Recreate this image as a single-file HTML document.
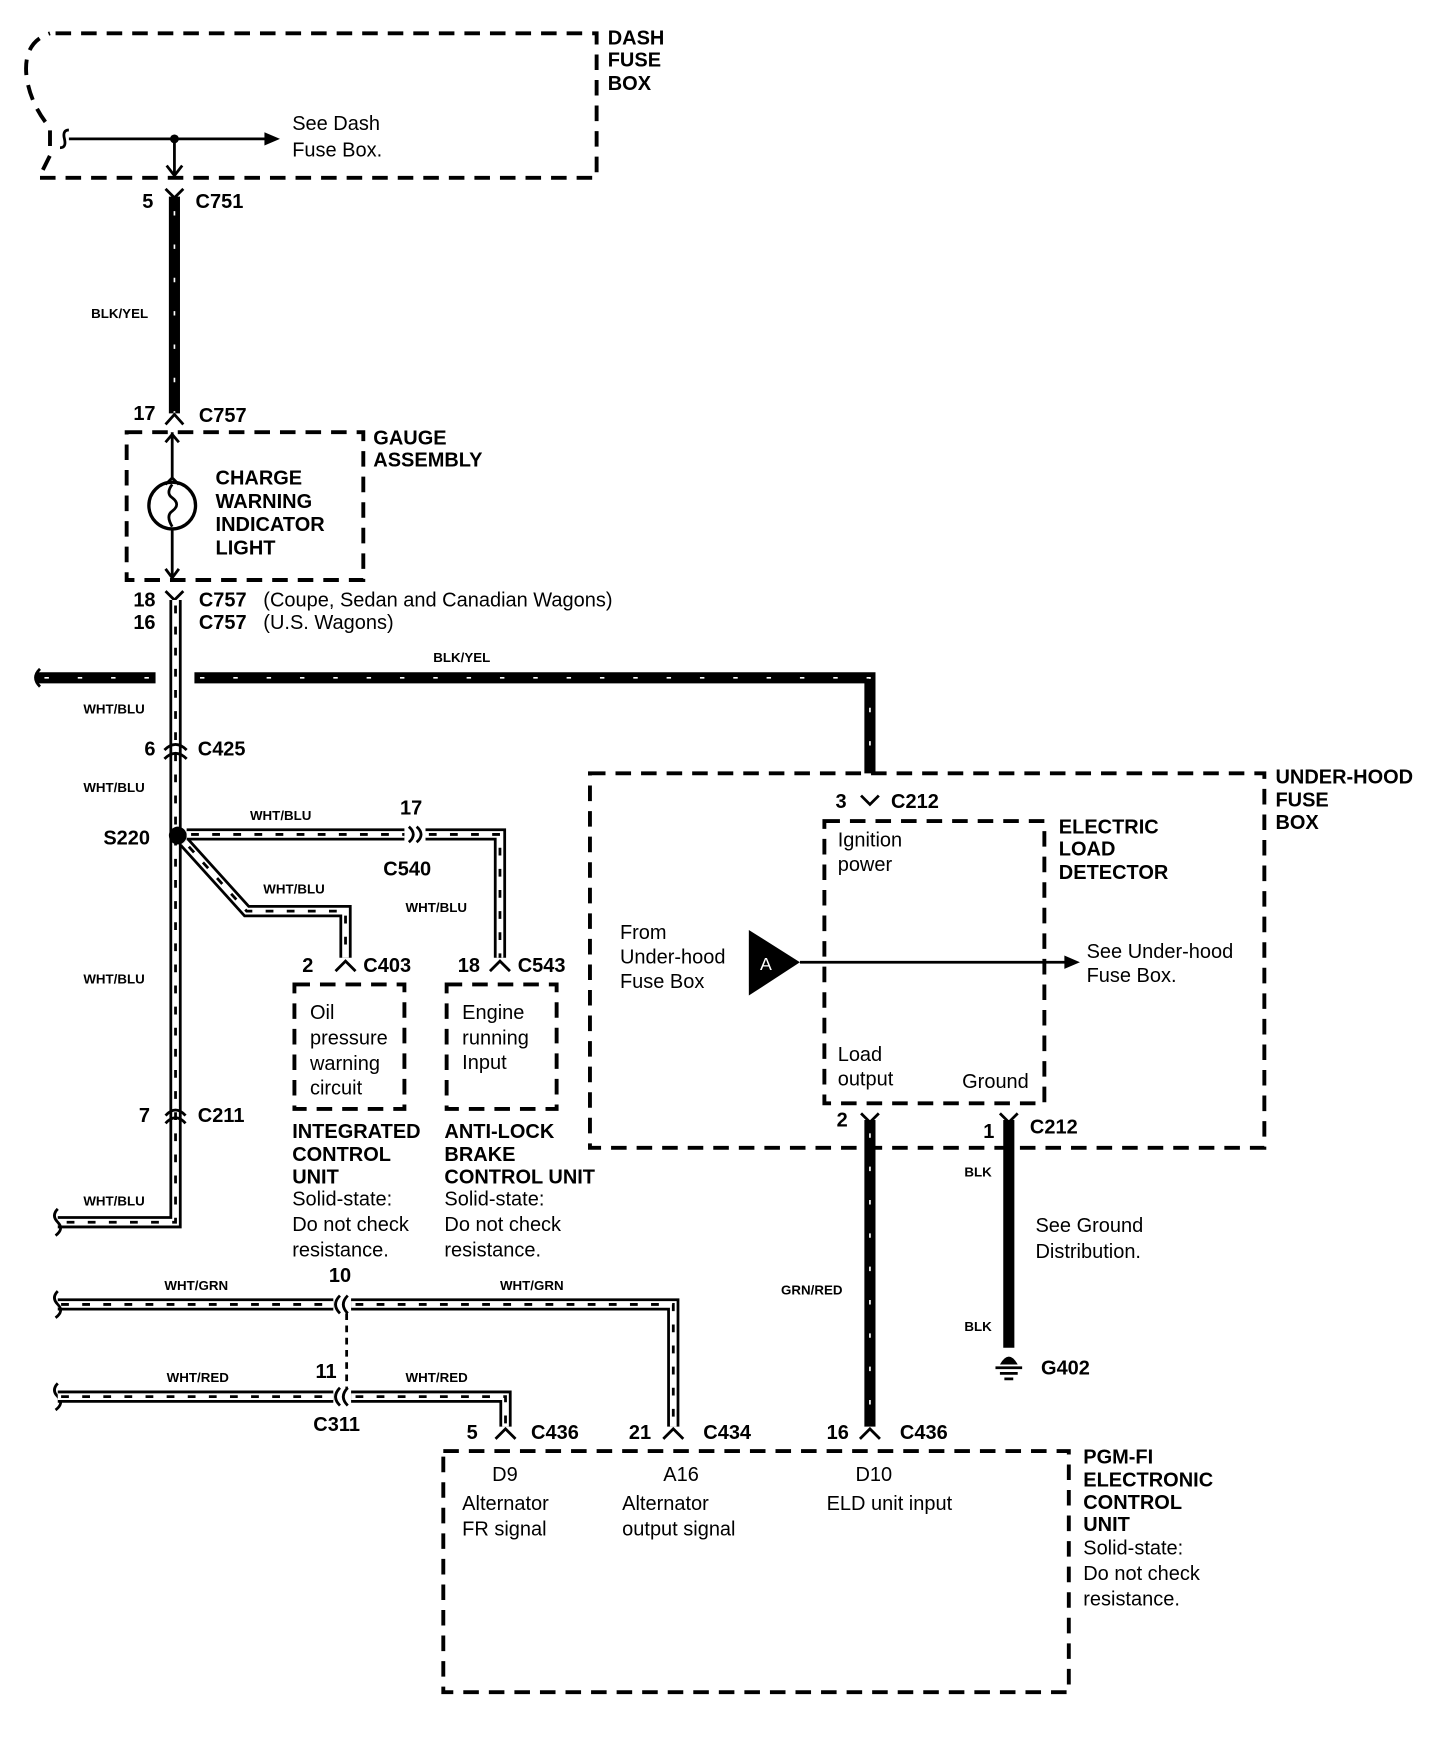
<!DOCTYPE html>
<html><head><meta charset="utf-8"><style>
html,body{margin:0;padding:0;background:#fff}
svg{display:block}
text{font-family:"Liberation Sans",Arial,sans-serif;fill:#000}
.b{font-weight:bold;font-size:18px}
.r{font-size:18px}
.s{font-weight:bold;font-size:12px}
.box{fill:none;stroke:#000;stroke-width:3.5;stroke-dasharray:14 9}
.blk{fill:none;stroke:#000;stroke-width:10}
.blkd{fill:none;stroke:#fff;stroke-width:1.5;stroke-dasharray:4 26}
.w1{fill:none;stroke:#000;stroke-width:11;stroke-linejoin:miter}
.w2{fill:none;stroke:#fff;stroke-width:6;stroke-linejoin:miter}
.w3{fill:none;stroke:#000;stroke-width:2.5;stroke-dasharray:7 12}
.ln{fill:none;stroke:#000;stroke-width:2.5}
</style></head><body>
<svg width="1456" height="1740" viewBox="0 0 1310.5 1566" preserveAspectRatio="none" xmlns="http://www.w3.org/2000/svg">
<!-- Dash fuse box -->
<path class="box" d="M50 30 L537 30 L537 160 L35 160 L45 140 L45 115 Q28 95 24 70 Q20 38 45 30"/>
<text class="b" x="547" y="40">DASH</text><text class="b" x="547" y="60">FUSE</text><text class="b" x="547" y="81">BOX</text>
<path class="ln" d="M62 125 L240 125"/><path d="M238 119 L252 125 L238 131Z"/>
<path class="ln" d="M62 117 q-6 0 -4 8 q2 8 -4 8"/>
<circle cx="157" cy="125" r="4"/>
<path class="ln" d="M157 125 L157 158 M150 149 L157 158 L164 149"/>
<text class="r" x="263" y="117">See Dash</text><text class="r" x="263" y="141">Fuse Box.</text>
<!-- C751 -->
<path class="ln" d="M149 170 L157 178 L165 170"/>
<text class="b" x="128" y="187">5</text><text class="b" x="176" y="187">C751</text>
<path class="blk" d="M157 177 L157 372"/><path class="blkd" d="M157 190 L157 372"/>
<text class="s" x="82" y="286">BLK/YEL</text>
<path class="ln" d="M149 382 L157 373 L165 382"/>
<text class="b" x="120" y="378">17</text><text class="b" x="179" y="380">C757</text>
<!-- Gauge assembly -->
<rect class="box" x="114" y="389" width="213" height="133"/>
<text class="b" x="336" y="400">GAUGE</text><text class="b" x="336" y="420">ASSEMBLY</text>
<path class="ln" d="M155 389 L155 432 M149 398 L155 391 L161 398 M149 436 L155 430 L161 436"/>
<circle cx="155" cy="455" r="21" fill="none" stroke="#000" stroke-width="3"/>
<path class="ln" d="M155 436 q-6 8 0 12 q8 6 0 12 q-6 4 0 14"/>
<path class="ln" d="M155 476 L155 520 M149 512 L155 520 L161 512"/>
<text class="b" x="194" y="436">CHARGE</text><text class="b" x="194" y="457">WARNING</text><text class="b" x="194" y="478">INDICATOR</text><text class="b" x="194" y="499">LIGHT</text>
<path class="ln" d="M149 532 L157 540 L165 532"/>
<text class="b" x="120" y="546">18</text><text class="b" x="120" y="566">16</text>
<text class="b" x="179" y="546">C757</text><text class="b" x="179" y="566">C757</text>
<text class="r" x="237" y="546">(Coupe, Sedan and Canadian Wagons)</text>
<text class="r" x="237" y="566">(U.S. Wagons)</text>
<!-- main WHT/BLU vertical -->
<path class="w1" d="M158 540 L158 1100 L52 1100"/><path class="w2" d="M158 540 L158 1100 L52 1100"/><path class="w3" d="M158 545 L158 1100 L55 1100"/>
<path class="ln" d="M52 1088 q-6 6 0 12 q6 6 -2 12"/>
<!-- BLK/YEL horizontal -->
<path class="blk" d="M32 610 L140 610"/><path class="blk" d="M175 610 L783 610 L783 696"/>
<path class="blkd" d="M40 610 L140 610 M180 610 L783 610 L783 696" stroke-dasharray="5 20"/>
<path class="ln" d="M36 602 q-8 8 0 16"/>
<text class="s" x="390" y="596">BLK/YEL</text>
<text class="s" x="75" y="642">WHT/BLU</text>
<path class="ln" d="M148 675 Q158 665 168 675 M148 683 Q158 673 168 683"/>
<text class="b" x="130" y="680">6</text><text class="b" x="178" y="680">C425</text>
<text class="s" x="75" y="713">WHT/BLU</text>
<text class="b" x="93" y="760">S220</text>
<circle cx="160" cy="752" r="8"/>
<!-- branch to C540 -->
<path class="w1" d="M168 751 L364 751"/><path class="w2" d="M168 751 L364 751"/><path class="w3" d="M172 751 L364 751"/>
<path class="ln" d="M368 744 Q376 751 368 758 M375 744 Q383 751 375 758"/>
<path class="w1" d="M383 751 L450 751 L450 862"/><path class="w2" d="M383 751 L450 751 L450 862"/><path class="w3" d="M386 751 L450 751 L450 862"/>
<text class="s" x="225" y="738">WHT/BLU</text><text class="b" x="360" y="733">17</text><text class="b" x="345" y="788">C540</text>
<text class="s" x="365" y="821">WHT/BLU</text>
<!-- diag branch -->
<path class="w1" d="M166 758 L222 820 L311 820 L311 862"/><path class="w2" d="M166 758 L222 820 L311 820 L311 862"/><path class="w3" d="M170 762 L222 820 L311 820 L311 862"/>
<text class="s" x="237" y="804">WHT/BLU</text>
<path class="ln" d="M302 874 L311 865 L320 874 M441 874 L450 865 L459 874"/>
<text class="b" x="272" y="875">2</text><text class="b" x="327" y="875">C403</text>
<text class="b" x="412" y="875">18</text><text class="b" x="466" y="875">C543</text>
<rect class="box" x="265" y="886" width="99" height="112"/>
<rect class="box" x="402" y="886" width="99" height="112"/>
<text class="r" x="279" y="917">Oil</text><text class="r" x="279" y="940">pressure</text><text class="r" x="279" y="963">warning</text><text class="r" x="279" y="985">circuit</text>
<text class="r" x="416" y="917">Engine</text><text class="r" x="416" y="940">running</text><text class="r" x="416" y="962">Input</text>
<text class="s" x="75" y="885">WHT/BLU</text>
<path class="ln" d="M149 1004 Q158 994 167 1004 M149 1011 Q158 1001 167 1011"/>
<text class="b" x="125" y="1010">7</text><text class="b" x="178" y="1010">C211</text>
<text class="s" x="75" y="1085">WHT/BLU</text>
<text class="b" x="263" y="1024">INTEGRATED</text><text class="b" x="263" y="1045">CONTROL</text><text class="b" x="263" y="1065">UNIT</text>
<text class="r" x="263" y="1085">Solid-state:</text><text class="r" x="263" y="1108">Do not check</text><text class="r" x="263" y="1131">resistance.</text>
<text class="b" x="400" y="1024">ANTI-LOCK</text><text class="b" x="400" y="1045">BRAKE</text><text class="b" x="400" y="1065">CONTROL UNIT</text>
<text class="r" x="400" y="1085">Solid-state:</text><text class="r" x="400" y="1108">Do not check</text><text class="r" x="400" y="1131">resistance.</text>
<!-- WHT/GRN -->
<path class="w1" d="M52 1174 L300 1174"/><path class="w2" d="M52 1174 L300 1174"/><path class="w3" d="M55 1174 L300 1174"/>
<path class="w1" d="M316 1174 L606 1174 L606 1284"/><path class="w2" d="M316 1174 L606 1174 L606 1284"/><path class="w3" d="M320 1174 L606 1174 L606 1284"/>
<path class="ln" d="M52 1162 q-6 6 0 12 q6 6 -2 12 M52 1245 q-6 6 0 12 q6 6 -2 12"/>
<path class="ln" d="M306 1166 Q298 1174 306 1182 M313 1166 Q305 1174 313 1182 M306 1249 Q298 1257 306 1265 M313 1249 Q305 1257 313 1265"/>
<path class="ln" d="M312 1182 L312 1249" stroke-dasharray="6 5" stroke-width="1.5"/>
<text class="s" x="148" y="1161">WHT/GRN</text><text class="s" x="450" y="1161">WHT/GRN</text><text class="b" x="296" y="1154">10</text>
<!-- WHT/RED -->
<path class="w1" d="M52 1257 L300 1257"/><path class="w2" d="M52 1257 L300 1257"/><path class="w3" d="M55 1257 L300 1257"/>
<path class="w1" d="M316 1257 L455 1257 L455 1284"/><path class="w2" d="M316 1257 L455 1257 L455 1284"/><path class="w3" d="M320 1257 L455 1257 L455 1284"/>
<text class="s" x="150" y="1244">WHT/RED</text><text class="s" x="365" y="1244">WHT/RED</text>
<text class="b" x="284" y="1240">11</text><text class="b" x="282" y="1288">C311</text>
<path class="ln" d="M446 1295 L455 1286 L464 1295 M597 1295 L606 1286 L615 1295 M774 1295 L783 1286 L792 1295"/>
<text class="b" x="420" y="1295">5</text><text class="b" x="478" y="1295">C436</text>
<text class="b" x="566" y="1295">21</text><text class="b" x="633" y="1295">C434</text>
<text class="b" x="744" y="1295">16</text><text class="b" x="810" y="1295">C436</text>
<!-- PGM box -->
<rect class="box" x="399" y="1306" width="563" height="217"/>
<text class="r" x="443" y="1333">D9</text><text class="r" x="416" y="1359">Alternator</text><text class="r" x="416" y="1382">FR signal</text>
<text class="r" x="597" y="1333">A16</text><text class="r" x="560" y="1359">Alternator</text><text class="r" x="560" y="1382">output signal</text>
<text class="r" x="770" y="1333">D10</text><text class="r" x="744" y="1359">ELD unit input</text>
<text class="b" x="975" y="1317">PGM-FI</text><text class="b" x="975" y="1338">ELECTRONIC</text><text class="b" x="975" y="1358">CONTROL</text><text class="b" x="975" y="1378">UNIT</text>
<text class="r" x="975" y="1399">Solid-state:</text><text class="r" x="975" y="1422">Do not check</text><text class="r" x="975" y="1445">resistance.</text>
<!-- Under-hood fuse box -->
<rect class="box" x="531" y="696" width="607" height="337"/>
<text class="b" x="1148" y="705">UNDER-HOOD</text><text class="b" x="1148" y="726">FUSE</text><text class="b" x="1148" y="746">BOX</text>
<rect class="box" x="742" y="739" width="198" height="254"/>
<path class="ln" d="M775 716 L783 724 L791 716"/>
<text class="b" x="752" y="727">3</text><text class="b" x="802" y="727">C212</text>
<text class="r" x="754" y="762">Ignition</text><text class="r" x="754" y="784">power</text>
<text class="b" x="953" y="750">ELECTRIC</text><text class="b" x="953" y="770">LOAD</text><text class="b" x="953" y="791">DETECTOR</text>
<text class="r" x="558" y="845">From</text><text class="r" x="558" y="867">Under-hood</text><text class="r" x="558" y="889">Fuse Box</text>
<path d="M674 837 L674 896 L720 866Z"/>
<text x="684" y="873" style="font-size:16px;fill:#fff">A</text>
<path class="ln" d="M720 866 L960 866" stroke-width="2"/><path d="M958 860 L972 866 L958 872Z"/>
<text class="r" x="978" y="862">See Under-hood</text><text class="r" x="978" y="884">Fuse Box.</text>
<text class="r" x="754" y="955">Load</text><text class="r" x="754" y="977">output</text><text class="r" x="866" y="979">Ground</text>
<path class="ln" d="M775 1002 L783 1010 L791 1002 M900 1002 L908 1010 L916 1002"/>
<text class="b" x="753" y="1014">2</text><text class="b" x="885" y="1024">1</text><text class="b" x="927" y="1020">C212</text>
<path class="blk" d="M783 1008 L783 1284"/><path class="blkd" d="M783 1020 L783 1284"/>
<text class="s" x="703" y="1165">GRN/RED</text>
<path class="blk" d="M908 1008 L908 1213"/>
<text class="s" x="868" y="1059">BLK</text><text class="s" x="868" y="1198">BLK</text>
<text class="r" x="932" y="1109">See Ground</text><text class="r" x="932" y="1132">Distribution.</text>
<path d="M900 1228 Q908 1214 916 1228Z"/>
<path class="ln" d="M896 1231 L920 1231 M900 1236 L916 1236 M904 1241 L912 1241" stroke-width="2"/>
<text class="b" x="937" y="1237">G402</text>
</svg>
</body></html>
